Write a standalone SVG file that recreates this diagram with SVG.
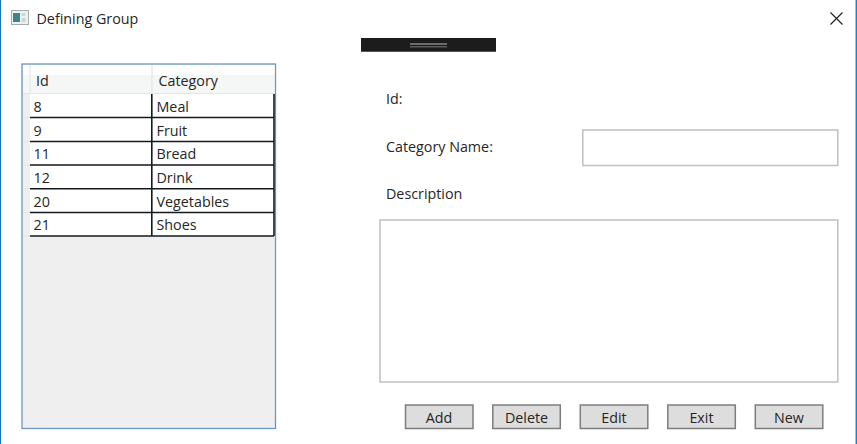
<svg xmlns="http://www.w3.org/2000/svg" width="857" height="444" viewBox="0 0 857 444">
<style>
text{font-family:"Open Sans","Noto Sans","Liberation Sans",sans-serif;font-size:14.3px;fill:#262626}
.row{fill:#fff;stroke:none}
.ln{stroke:#14191d;stroke-width:1.6;fill:none}
.box{fill:#fff;stroke:#c0c0c4;stroke-width:1.5}
.btn{fill:#dddddd;stroke:#7d7d7d;stroke-width:1.5}
.c{text-anchor:middle}
</style>
<rect width="857" height="444" fill="#fff"/>
<path d="M.5 0V444" stroke="#1a78b8" stroke-width="1.200"/>
<path d="M856.300 0V444" stroke="#1683d2" stroke-width="1.500"/>
<g id="titlebar">
<rect x="11.500" y="10.500" width="17" height="14" fill="#eef1f1" stroke="#a4acae"/>
<rect x="13" y="13" width="7" height="9" fill="#3f8585"/>
<rect x="21.500" y="13" width="4" height="3" fill="#c3dcd5"/>
<rect x="21.500" y="18" width="4" height="4" fill="#c9d7d2"/>
<text x="36.500" y="24">Defining Group</text>
<path d="M830.500 12.500L842.500 24.500M842.500 12.500L830.500 24.500" stroke="#222" stroke-width="1.200" fill="none"/>
</g>
<g id="splitter">
<rect x="361" y="38" width="135" height="13.500" fill="#1c1c1c"/>
<path d="M361 51.500H496" stroke="#555" stroke-width="1"/>
<rect x="410" y="43" width="37" height="2" fill="#6a6a6a"/>
<rect x="410" y="46" width="37" height="1.500" fill="#5c5c5c"/>
</g>
<g id="datagrid">
<rect x="22" y="64" width="253.500" height="364.500" fill="#efefef" stroke="#6c96c0" stroke-width="1.300"/>
<rect x="23" y="65" width="251.500" height="28.500" fill="#f5f6f6"/>
<rect x="23" y="65" width="251.500" height="10" fill="#fdfdfd"/>
<path d="M30 65V93M152 65V93M23 93.500H274.500" stroke="#e4e6e7" stroke-width="1.200"/>
<rect x="30" y="94" width="244" height="142.500" class="row"/>
<path class="ln" d="M30 117.500H274M30 141.500H274M30 165H274M30 188.800H274M30 212.500H274M30 236H274M151.800 94V236M274 94V236"/>
<path d="M23 117.500H30M23 141.500H30M23 165H30M23 188.800H30M23 212.500H30M23 236H30" stroke="#e2e2e2" stroke-width="1"/>
<text x="36" y="85.500">Id</text>
<text x="158.500" y="85.500">Category</text>
<text x="33.500" y="111.500">8</text><text x="156.500" y="111.500">Meal</text>
<text x="33.500" y="135.500">9</text><text x="156.500" y="135.500">Fruit</text>
<text x="33.500" y="159">11</text><text x="156.500" y="159">Bread</text>
<text x="33.500" y="182.500">12</text><text x="156.500" y="182.500">Drink</text>
<text x="33.500" y="206.500">20</text><text x="156.500" y="206.500">Vegetables</text>
<text x="33.500" y="230">21</text><text x="156.500" y="230">Shoes</text>
</g>
<g id="form">
<text x="386" y="103.500">Id:</text>
<text x="386" y="151.500">Category Name:</text>
<rect class="box" x="582.800" y="130" width="255" height="35.500"/>
<text x="386" y="199">Description</text>
<rect class="box" x="380" y="220" width="457.800" height="162"/>
</g>
<g id="btn-add"><rect class="btn" x="405.500" y="405" width="67.500" height="23.500"/><text class="c" x="439" y="422.500">Add</text></g>
<g id="btn-delete"><rect class="btn" x="492.800" y="405" width="67.500" height="23.500"/><text class="c" x="526.500" y="422.500">Delete</text></g>
<g id="btn-edit"><rect class="btn" x="580.300" y="405" width="67.500" height="23.500"/><text class="c" x="614" y="422.500">Edit</text></g>
<g id="btn-exit"><rect class="btn" x="667.800" y="405" width="67.500" height="23.500"/><text class="c" x="701.500" y="422.500">Exit</text></g>
<g id="btn-new"><rect class="btn" x="755.300" y="405" width="67.500" height="23.500"/><text class="c" x="789" y="422.500">New</text></g>
<g id="connectors"></g>
</svg>
